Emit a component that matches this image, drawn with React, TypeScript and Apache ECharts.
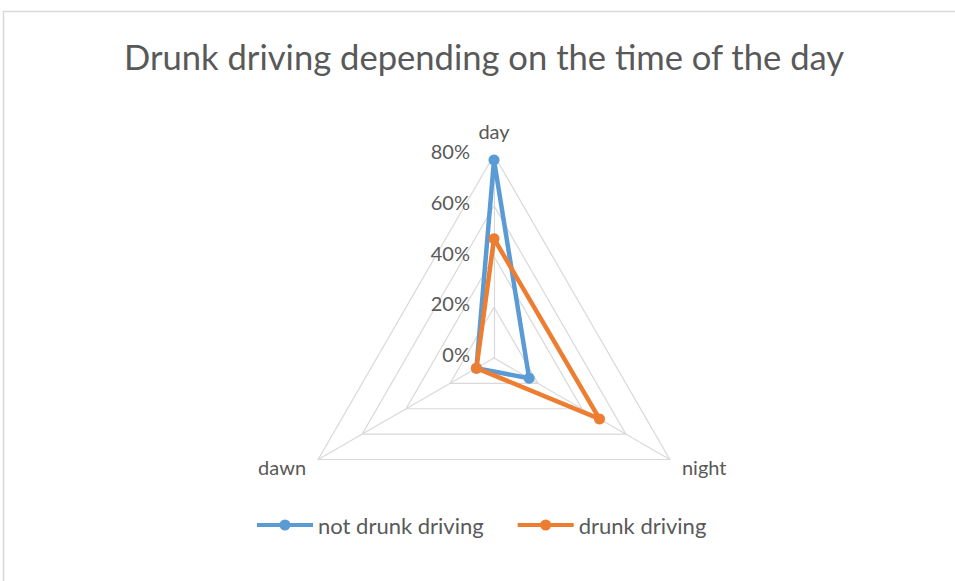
import React, { useEffect, useRef } from "react";
import * as echarts from "echarts";

// Order follows the chart going clockwise from the top: day, night, dawn.
// ECharts lays indicators out counter-clockwise, so they are passed reversed after the first.
const categories = ["day", "night", "dawn"];
const maxValue = 80;
const notDrunk = [78, 16, 8];
const drunk = [47, 48, 8];
const seriesNames = ["not drunk driving", "drunk driving"];
const FONT = "Lato, 'Open Sans', sans-serif";

const ccw = <T,>(arr: T[]): T[] => [arr[0], ...arr.slice(1).reverse()];

const legendIcon =
  "path://M0,3.5h56v4h-56z M22.5,5.5a5.5,5.5 0 1,1 11,0a5.5,5.5 0 1,1 -11,0z";

export default function App() {
  const ref = useRef<HTMLDivElement>(null);
  useEffect(() => {
    if (!ref.current) return;
    const chart = echarts.init(ref.current, undefined, { renderer: "svg" });
    chart.setOption({
      animation: false,
      backgroundColor: "#ffffff",
      title: {
        text: "Drunk driving depending on the time of the day",
        left: 119,
        top: 34,
        textStyle: { fontFamily: FONT, fontSize: 34.6, fontWeight: "normal", color: "#595959" },
      },
      graphic: [
        {
          type: "polyline",
          shape: { points: [[3.5, 600], [3.5, 11.5], [960, 11.5]] },
          style: { stroke: "#d9d9d9", lineWidth: 1.5, fill: "none" },
          silent: true,
        },
      ],
      legend: {
        bottom: 40,
        left: 252,
        itemGap: 34,
        itemWidth: 56,
        itemHeight: 11,
        icon: legendIcon,
        textStyle: { fontFamily: FONT, fontSize: 22, color: "#595959" },
        data: seriesNames,
      },
      radar: {
        center: [494, 358],
        radius: 203,
        startAngle: 90,
        shape: "polygon",
        splitNumber: 4,
        axisName: { fontFamily: FONT, fontSize: 20, color: "#595959" },
        nameGap: 14,
        splitLine: { lineStyle: { color: "#d9d9d9", width: 1.2 } },
        splitArea: { show: false },
        axisLine: { lineStyle: { color: "#d9d9d9", width: 1.2 } },
        indicator: ccw(categories).map((n, i) => ({
          name: n,
          min: 0,
          max: maxValue,
          ...(i === 0
            ? {
                axisLabel: {
                  show: true,
                  margin: 24,
                  fontFamily: FONT,
                  fontSize: 20,
                  color: "#595959",
                  verticalAlign: "bottom",
                  lineHeight: 8,
                  formatter: (v: number) => v + "%",
                },
              }
            : {}),
        })),
      },
      series: [
        {
          type: "radar",
          symbol: "circle",
          symbolSize: 11,
          data: [
            {
              name: seriesNames[0],
              value: ccw(notDrunk),
              lineStyle: { color: "#5B9BD5", width: 4.5 },
              itemStyle: { color: "#5B9BD5" },
            },
            {
              name: seriesNames[1],
              value: ccw(drunk),
              lineStyle: { color: "#ED7D31", width: 4.5 },
              itemStyle: { color: "#ED7D31" },
            },
          ],
        },
      ],
    });
    return () => chart.dispose();
  }, []);
  return <div ref={ref} style={{ width: 955, height: 581, position: "absolute", left: 0, top: 0 }} />;
}
